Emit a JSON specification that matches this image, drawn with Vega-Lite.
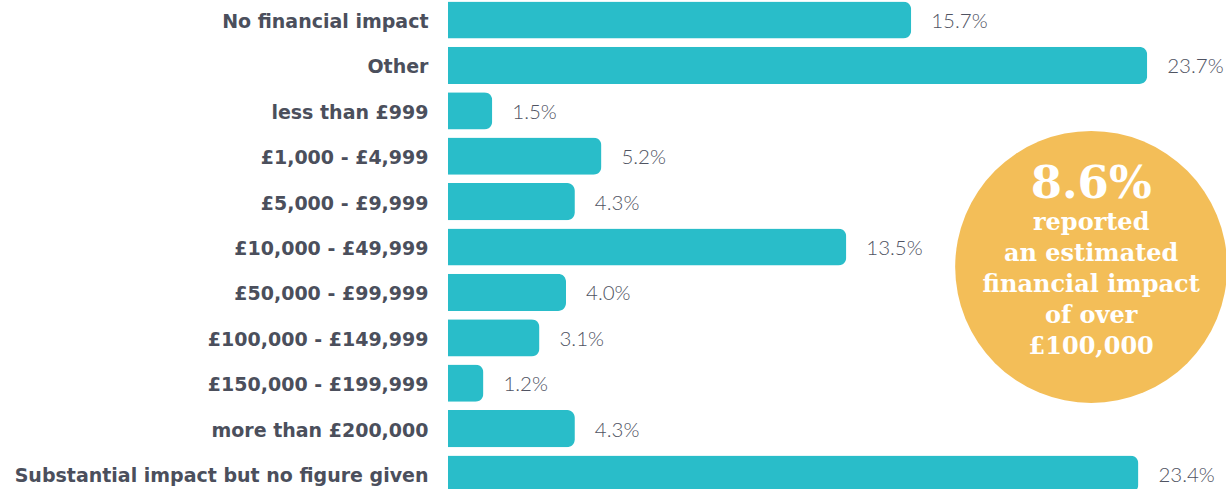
{
  "$schema": "https://vega.github.io/schema/vega-lite/v6.json",
  "width": 778,
  "height": 489,
  "autosize": {"type": "none"},
  "padding": {"left": 448, "top": 0, "right": 0, "bottom": 0},
  "background": "white",
  "config": {"view": {"stroke": null}},
  "datasets": {
    "bars": [
      {"category": "No financial impact", "share": 0.157},
      {"category": "Other", "share": 0.237},
      {"category": "less than £999", "share": 0.015},
      {"category": "£1,000 - £4,999", "share": 0.052},
      {"category": "£5,000 - £9,999", "share": 0.043},
      {"category": "£10,000 - £49,999", "share": 0.135},
      {"category": "£50,000 - £99,999", "share": 0.040},
      {"category": "£100,000 - £149,999", "share": 0.031},
      {"category": "£150,000 - £199,999", "share": 0.012},
      {"category": "more than £200,000", "share": 0.043},
      {"category": "Substantial impact but no figure given", "share": 0.234}
    ],
    "badge": [{"cx": 0.218, "cy": 5.44}],
    "badgeText": [
      {"text": "8.6%", "kind": "big", "cx": 0.218, "cy": 3.61},
      {"text": "reported", "kind": "small", "cx": 0.218, "cy": 4.47},
      {"text": "an estimated", "kind": "small", "cx": 0.218, "cy": 5.15},
      {"text": "financial impact", "kind": "small", "cx": 0.218, "cy": 5.84},
      {"text": "of over", "kind": "small", "cx": 0.218, "cy": 6.52},
      {"text": "£100,000", "kind": "small", "cx": 0.218, "cy": 7.2}
    ]
  },
  "layer": [
    {
      "data": {"name": "bars"},
      "mark": {"type": "bar", "color": "#29BDC9", "cornerRadiusEnd": 8},
      "encoding": {
        "y": {
          "field": "category", "type": "nominal", "sort": null,
          "scale": {"range": [-2.7, 496.7], "paddingInner": 0.18, "paddingOuter": 0.09},
          "axis": {"title": null, "ticks": false, "domain": false, "labelPadding": 20, "labelOffset": 2, "labelFont": "DejaVu Sans", "labelFontSize": 19, "labelFontWeight": "bold", "labelColor": "#4B4F5C", "labelLimit": 0}
        },
        "x": {"field": "share", "type": "quantitative", "scale": {"domain": [0, 0.2637]}, "axis": null}
      }
    },
    {
      "data": {"name": "bars"},
      "mark": {"type": "text", "align": "left", "baseline": "middle", "dx": 20, "dy": 2, "font": "Lato", "fontWeight": 300, "fontSize": 20.5, "color": "#4F5362"},
      "encoding": {
        "y": {"field": "category", "type": "nominal", "sort": null, "scale": {"range": [-2.7, 496.7], "paddingInner": 0.18, "paddingOuter": 0.09}, "axis": null},
        "x": {"field": "share", "type": "quantitative", "scale": {"domain": [0, 0.2637]}, "axis": null},
        "text": {"field": "share", "type": "quantitative", "format": ".1%"}
      }
    },
    {
      "data": {"name": "badge"},
      "mark": {"type": "point", "shape": "circle", "filled": true, "color": "#F3BE58", "opacity": 1, "size": 73984},
      "encoding": {
        "x": {"field": "cx", "type": "quantitative", "scale": {"domain": [0, 0.2637]}, "axis": null},
        "y": {"field": "cy", "type": "quantitative", "scale": {"domain": [-0.5, 10.5], "range": [-2.7, 496.7]}, "axis": null}
      }
    },
    {
      "data": {"name": "badgeText"},
      "transform": [{"filter": "datum.kind == 'big'"}],
      "mark": {"type": "text", "align": "center", "baseline": "middle", "font": "DejaVu Serif", "fontWeight": "bold", "fontSize": 45, "color": "white"},
      "encoding": {
        "x": {"field": "cx", "type": "quantitative", "scale": {"domain": [0, 0.2637]}, "axis": null},
        "y": {"field": "cy", "type": "quantitative", "scale": {"domain": [-0.5, 10.5], "range": [-2.7, 496.7]}, "axis": null},
        "text": {"field": "text"}
      }
    },
    {
      "data": {"name": "badgeText"},
      "transform": [{"filter": "datum.kind == 'small'"}],
      "mark": {"type": "text", "align": "center", "baseline": "middle", "font": "DejaVu Serif", "fontWeight": "bold", "fontSize": 24, "color": "white"},
      "encoding": {
        "x": {"field": "cx", "type": "quantitative", "scale": {"domain": [0, 0.2637]}, "axis": null},
        "y": {"field": "cy", "type": "quantitative", "scale": {"domain": [-0.5, 10.5], "range": [-2.7, 496.7]}, "axis": null},
        "text": {"field": "text"}
      }
    }
  ],
  "resolve": {"scale": {"y": "independent"}}
}
